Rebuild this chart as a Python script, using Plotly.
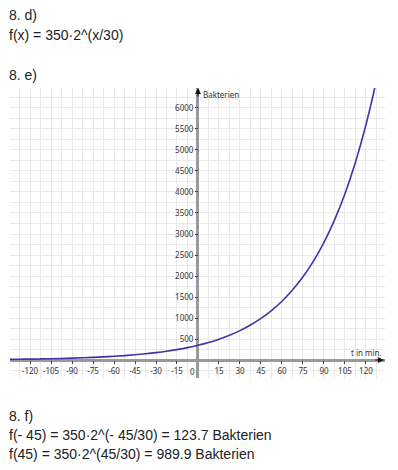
import plotly.graph_objects as go

# Data (t in minutes, bacteria count)
t_values = [-135, -127.5, -120, -112.5, -105, -97.5, -90, -82.5, -75, -67.5, -60, -52.5,
            -45, -37.5, -30, -22.5, -15, -7.5, 0, 7.5, 15, 22.5, 30, 37.5, 45, 52.5,
            60, 67.5, 75, 82.5, 90, 97.5, 105, 112.5, 120, 127.5, 135]
bacteria = [15.5, 18.4, 21.9, 26.0, 30.9, 36.8, 43.75, 52.0, 61.9, 73.6, 87.5, 104.1,
            123.7, 147.2, 175, 208.1, 247.5, 294.3, 350, 416.2, 495.0, 588.6, 700, 832.4,
            989.9, 1177.2, 1400, 1664.9, 1979.9, 2354.5, 2800, 3329.8, 3959.8, 4709.0,
            5600, 6659.6, 7919.6]
x_ticks = [-120, -105, -90, -75, -60, -45, -30, -15, 15, 30, 45, 60, 75, 90, 105, 120]
x_tick_labels = ["-120", "-105", "-90", "-75", "-60", "-45", "-30", "-15",
                 "15", "30", "45", "60", "75", "90", "105", "120"]
y_ticks = [500, 1000, 1500, 2000, 2500, 3000, 3500, 4000, 4500, 5000, 5500, 6000]
y_tick_labels = [str(v) for v in y_ticks]

x_range = [-134.3, 133.6]
y_range = [-428.6, 6476]

W, H = 398, 470
x_dom = [10 / W, 385 / W]
y_dom = [1 - 378 / H, 1 - 88 / H]

x0_pos = x_dom[0] + (0 - x_range[0]) / (x_range[1] - x_range[0]) * (x_dom[1] - x_dom[0])
y0_pos = y_dom[0] + (0 - y_range[0]) / (y_range[1] - y_range[0]) * (y_dom[1] - y_dom[0])

tick_font = dict(family="Noto Sans, DejaVu Sans, sans-serif", size=8, color="#333")
grid_c = "#e9e9e9"

fig = go.Figure()
fig.add_trace(go.Scatter(x=t_values, y=bacteria, mode="lines",
                         line=dict(color="#4232ae", width=1.6, shape="spline"),
                         hoverinfo="skip", showlegend=False))

fig.update_layout(
    width=W, height=H, autosize=False,
    margin=dict(l=0, r=0, t=0, b=0),
    paper_bgcolor="white", plot_bgcolor="white",
    xaxis=dict(domain=x_dom, range=x_range, anchor="free", position=y0_pos,
               tickmode="array", tickvals=x_ticks, ticktext=x_tick_labels,
               ticks="outside", ticklen=3,
               tickcolor="#444", tickwidth=1, tickfont=tick_font,
               showgrid=True, gridcolor=grid_c, gridwidth=1,
               minor=dict(tickmode="linear", tick0=0, dtick=7.5, showgrid=True,
                          gridcolor=grid_c, gridwidth=1, ticks=""),
               zeroline=True, zerolinecolor="#9a9a9a", zerolinewidth=2.5,
               showline=False, fixedrange=True),
    yaxis=dict(domain=y_dom, range=y_range, anchor="free", position=x0_pos,
               tickmode="array", tickvals=y_ticks, ticktext=y_tick_labels,
               ticks="outside", ticklen=3,
               tickcolor="#444", tickwidth=1, tickfont=tick_font,
               showgrid=True, gridcolor=grid_c, gridwidth=1,
               minor=dict(tickmode="linear", tick0=0, dtick=250, showgrid=True,
                          gridcolor=grid_c, gridwidth=1, ticks=""),
               zeroline=True, zerolinecolor="#9a9a9a", zerolinewidth=2.5,
               showline=False, fixedrange=True),
)

text_font = dict(family="Liberation Sans, Arial, sans-serif", size=14, color="#222")
lines = [
    ("8. d)", 15),
    ("f(x) = 350·2^(x/30)", 35),
    ("8. e)", 75),
    ("8. f)", 416),
    ("f(- 45) = 350·2^(- 45/30) = 123.7 Bakterien", 435),
    ("f(45) = 350·2^(45/30) = 989.9 Bakterien", 454),
]
for txt, yc in lines:
    fig.add_annotation(text=txt, xref="paper", yref="paper", x=7 / W, y=1 - yc / H,
                       xanchor="left", yanchor="middle", showarrow=False, font=text_font)

small = dict(family="Noto Sans, DejaVu Sans, sans-serif", size=8, color="#333")
fig.add_annotation(text="Bakterien", xref="x", yref="y domain", x=0, y=1, xshift=3, yshift=-6,
                   xanchor="left", yanchor="middle", showarrow=False, font=small)
fig.add_annotation(text="t in min.", xref="x domain", yref="y", x=1, y=0, xshift=-1, yshift=8,
                   xanchor="right", yanchor="middle", showarrow=False, font=small)
fig.add_annotation(text="0", xref="x", yref="y", x=0, y=0, xshift=-5, yshift=-11,
                   xanchor="center", yanchor="middle", showarrow=False, font=small)

# axis arrows
fig.add_annotation(text="", xref="x", yref="y domain", x=0, y=1, ax=0, ay=10,
                   showarrow=True, arrowhead=2, arrowsize=1, arrowwidth=1.2, arrowcolor="#111")
fig.add_annotation(text="", xref="x domain", yref="y", x=0.997, y=0, ax=-10, ay=0,
                   showarrow=True, arrowhead=2, arrowsize=1, arrowwidth=1.2, arrowcolor="#111")

fig.write_html("out.html", config={"displayModeBar": False},
               post_script="document.body.style.margin='0';document.body.style.padding='0';")
